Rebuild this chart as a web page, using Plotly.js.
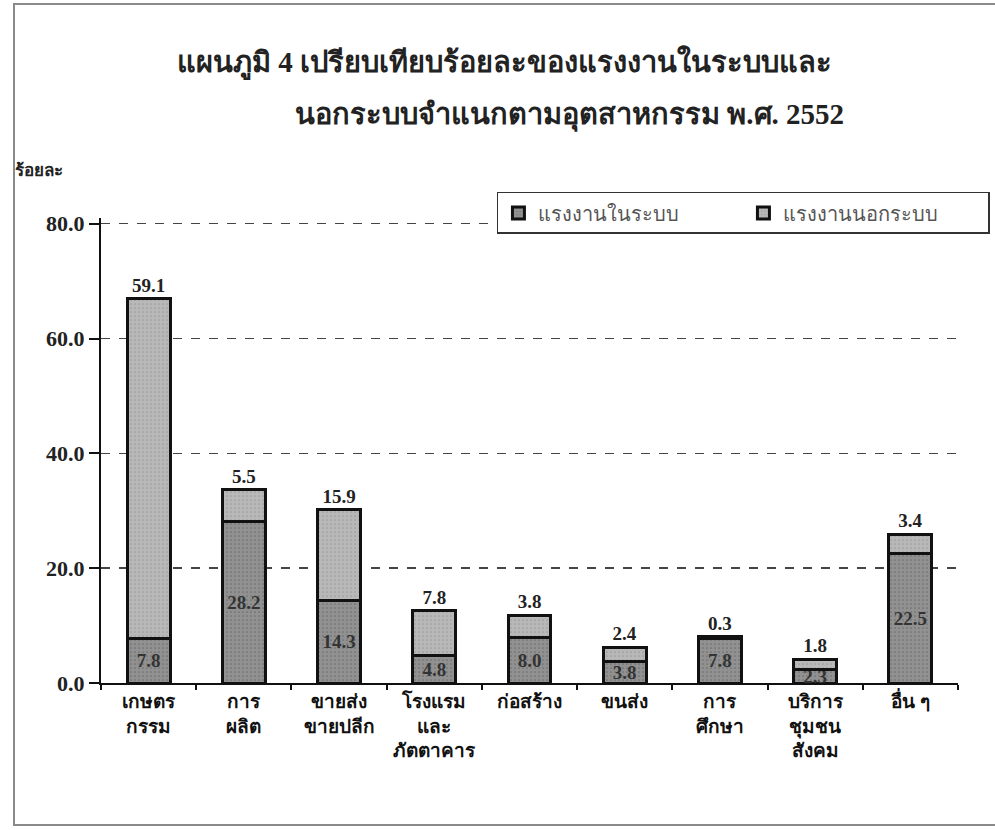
<!DOCTYPE html>
<html>
<head>
<meta charset="utf-8">
<script src="https://cdn.plot.ly/plotly-3.0.1.min.js"></script>
<style>
  html, body { margin: 0; padding: 0; background: #fff; overflow: hidden; }
  #wrap { position: relative; width: 995px; height: 830px; overflow: hidden; }
  #chart { width: 995px; height: 830px; }
  #frame { position: absolute; left: 13px; top: 3px; width: 1100px; height: 823px;
           border: 2px solid #8a8a8a; pointer-events: none; box-sizing: border-box; }
</style>
</head>
<body>
<div id="wrap">
  <div id="chart"></div>
  <div id="frame"></div>
</div>
<script>
const categories = [
  "เกษตร<br>กรรม",
  "การ<br>ผลิต",
  "ขายส่ง<br>ขายปลีก",
  "โรงแรม<br>และ<br>ภัตตาคาร",
  "ก่อสร้าง",
  "ขนส่ง",
  "การ<br>ศึกษา",
  "บริการ<br>ชุมชน<br>สังคม",
  "อื่น ๆ"
];
const formal   = [7.8, 28.2, 14.3, 4.8, 8.0, 3.8, 7.8, 2.3, 22.5];
const informal = [59.1, 5.5, 15.9, 7.8, 3.8, 2.4, 0.3, 1.8, 3.4];
const seriesNames = ["แรงงานในระบบ", "แรงงานนอกระบบ"];
const titleLines = ["แผนภูมิ 4 เปรียบเทียบร้อยละของแรงงานในระบบและ", "นอกระบบจำแนกตามอุตสาหกรรม พ.ศ. 2552"];
const yTitle = "ร้อยละ";

const serif = "Liberation Serif, DejaVu Serif, serif";
const thai = "Liberation Serif, Noto Sans, DejaVu Sans, sans-serif";

const traces = [
  {
    type: "bar", name: seriesNames[0], x: categories, y: formal,
    width: 0.45,
    marker: { color: "#8e8e8e", line: { color: "#111", width: 3 },
              pattern: { shape: ".", size: 4, solidity: 0.15, fgcolor: "#6e6e6e", bgcolor: "#919191" } },
    texttemplate: "<b>%{y:.1f}</b>", textposition: "inside", insidetextanchor: "middle",
    textangle: 0, constraintext: "none",
    textfont: { family: serif, size: 19, color: "#333" },
    hoverinfo: "skip"
  },
  {
    type: "bar", name: seriesNames[1], x: categories, y: informal,
    width: 0.45,
    marker: { color: "#b5b5b5", line: { color: "#111", width: 3 },
              pattern: { shape: ".", size: 4, solidity: 0.15, fgcolor: "#9c9c9c", bgcolor: "#b8b8b8" } },
    texttemplate: "<b>%{y:.1f}</b>", textposition: "outside",
    textangle: 0, constraintext: "none",
    textfont: { family: serif, size: 19, color: "#222" },
    cliponaxis: false,
    hoverinfo: "skip"
  }
];

const layout = {
  width: 995, height: 830,
  margin: { l: 101, r: 37, t: 218, b: 147, autoexpand: false },
  paper_bgcolor: "#fff", plot_bgcolor: "#fff",
  barmode: "stack",
  uniformtext: { mode: false },
  showlegend: true,
  legend: {
    orientation: "h", x: 0.462, y: 1.056, xanchor: "left", yanchor: "top",
    bgcolor: "#fff", bordercolor: "#333", borderwidth: 1.5,
    font: { family: thai, size: 20, color: "#555" },
    entrywidth: 200, traceorder: "normal"
  },
  xaxis: {
    type: "category", range: [-0.5, 8.5],
    showline: true, linecolor: "#111", linewidth: 2,
    ticks: "outside", tickson: "boundaries", ticklen: 5, tickcolor: "#111", tickwidth: 2,
    tickangle: 0, automargin: false,
    tickfont: { family: thai, size: 19, color: "#111", weight: "bold" },
    showgrid: false, zeroline: false, fixedrange: true
  },
  yaxis: {
    range: [0, 81], tickvals: [0, 20, 40, 60, 80], tickformat: ".1f",
    showline: true, linecolor: "#111", linewidth: 2,
    ticks: "outside", ticklen: 10, tickcolor: "#111", tickwidth: 2,
    automargin: false,
    tickfont: { family: serif, size: 22, color: "#222", weight: "bold" },
    showgrid: true, gridcolor: "#444", gridwidth: 1.5, griddash: "dash",
    zeroline: false, fixedrange: true
  },
  annotations: [
    { text: "<b>" + titleLines[0] + "</b>", xref: "paper", yref: "paper", x: 0.471, y: 1.335,
      xanchor: "center", yanchor: "middle", showarrow: false,
      font: { family: thai, size: 29, color: "#222" } },
    { text: "<b>" + titleLines[1] + "</b>", xref: "paper", yref: "paper", x: 0.547, y: 1.2215,
      xanchor: "center", yanchor: "middle", showarrow: false,
      font: { family: thai, size: 29, color: "#222" } },
    { text: "<b>" + yTitle + "</b>", xref: "paper", yref: "paper", x: -0.072, y: 1.103,
      xanchor: "center", yanchor: "middle", showarrow: false,
      font: { family: thai, size: 17, color: "#222" } }
  ]
};

Plotly.newPlot("chart", traces, layout, { displayModeBar: false, staticPlot: true });
</script>
</body>
</html>
